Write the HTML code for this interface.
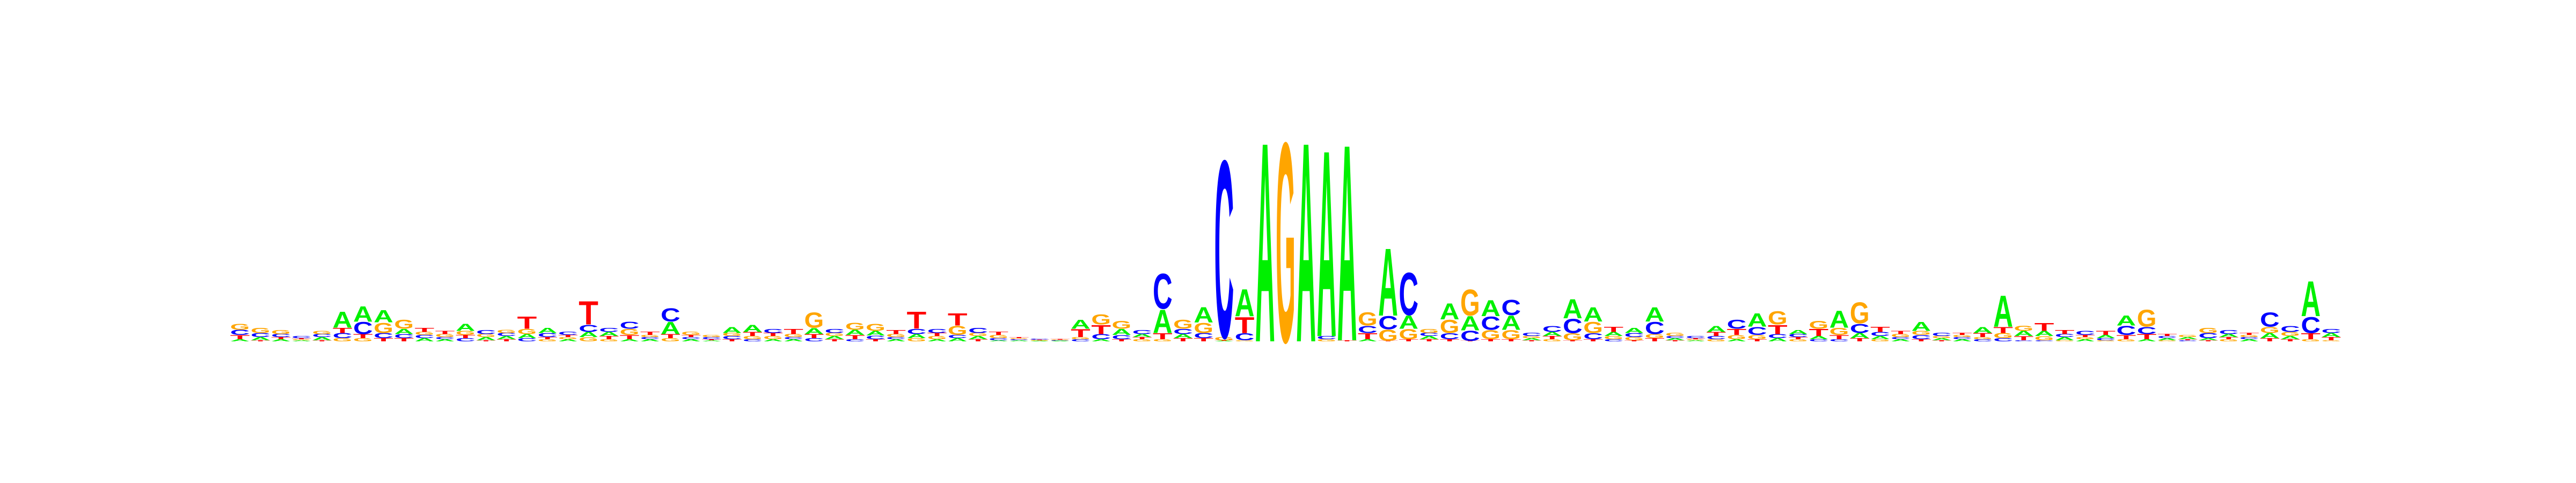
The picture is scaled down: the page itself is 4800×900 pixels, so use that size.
<!DOCTYPE html>
<html>
<head>
<meta charset="utf-8">
<style>
  html, body { margin: 0; padding: 0; background: #ffffff; }
  svg { display: block; }
  text { font-family: "Liberation Sans", "DejaVu Sans", sans-serif; font-weight: bold; }
</style>
</head>
<body>
<svg id="logo" width="4800" height="900" viewBox="0 0 4800 900" xmlns="http://www.w3.org/2000/svg">
  <rect x="0" y="0" width="4800" height="900" fill="#ffffff"></rect>
  <g id="stacks"></g>
</svg>
<script>
// Information content (bits) per position for each base
const heightA = [0.02,0.03,0.02,0.01,0.03,0.16,0.15,0.12,0.05,0.03,0.02,0.07,0.03,0.03,0.04,0.05,0.02,0.05,0.04,0.02,0.02,0.12,0.02,0.01,0.06,0.07,0.02,0.02,0.06,0.03,0.05,0.045,0.02,0.04,0.02,0.03,0.03,0.01,0.01,0.005,0.005,
  0.09,0.02,0.06,0.03,0.23,0.04,0.15,0.005,0.27,1.98,0,1.98,1.85,1.95,0.02,0.67,0.13,0.03,0.16,0.14,0.16,0.14,0.02,0.04,0.19,
  0.14,0.04,0.05,0.14,0.02,0.01,0.06,0.02,0.13,0.03,0.04,0.03,0.17,0.05,0.03,0.02,0.09,0.02,0.02,0.06,0.31,0.05,0.05,0.03,0.02,0.03,0.10,0.02,0.02,0.02,0.02,0.03,0.02,0.05,0.03,0.35,0.04];
const heightC = [0.05,0.04,0.03,0.02,0.03,0.05,0.12,0.05,0.04,0.03,0.02,0.03,0.04,0.03,0.03,0.04,0.03,0.07,0.04,0.07,0.02,0.13,0.02,0.02,0.03,0.02,0.04,0.02,0.03,0.04,0.02,0.035,0.02,0.05,0.04,0.03,0.05,0.02,0.01,0.01,0.005,
  0.02,0.05,0.04,0.04,0.35,0.05,0.05,1.76,0.07,0,0,0,0.03,0,0.07,0.13,0.42,0.03,0.06,0.10,0.13,0.15,0.03,0.06,0.14,
  0.06,0.02,0.04,0.12,0.02,0.02,0.03,0.09,0.08,0.04,0.03,0.02,0.02,0.09,0.04,0.02,0.04,0.03,0.02,0.02,0.03,0.01,0.01,0.03,0.04,0.02,0.09,0.07,0.02,0.01,0.05,0.04,0.02,0.14,0.06,0.16,0.04];
const heightG = [0.06,0.05,0.04,0.01,0.03,0.03,0.03,0.10,0.09,0.03,0.03,0.04,0.03,0.03,0.05,0.02,0.02,0.04,0.02,0.06,0.02,0.03,0.03,0.02,0.03,0.03,0.03,0.03,0.15,0.03,0.07,0.07,0.03,0.03,0.03,0.09,0.03,0.03,0.01,0.005,0.005,
  0.02,0.10,0.08,0.02,0.02,0.09,0.10,0.03,0.01,0,1.98,0,0.02,0,0.13,0.11,0.10,0.04,0.13,0.26,0.09,0.09,0.02,0.02,0.07,
  0.11,0.03,0.03,0.04,0.03,0.01,0.02,0.04,0.04,0.13,0.02,0.08,0.07,0.21,0.02,0.03,0.04,0.02,0.02,0.02,0.05,0.05,0.04,0.01,0.02,0.01,0.02,0.17,0.01,0.02,0.05,0.02,0.02,0.06,0.04,0.02,0.01];
const heightT = [0.04,0.01,0.02,0.01,0.01,0.05,0.04,0.03,0.03,0.04,0.03,0.03,0.01,0.02,0.12,0.02,0.02,0.23,0.03,0.04,0.03,0.04,0.02,0.01,0.02,0.04,0.03,0.05,0.04,0.02,0.04,0.02,0.04,0.17,0.03,0.12,0.02,0.03,0.01,0.005,0.005,
  0.08,0.09,0.02,0.02,0.06,0.03,0.03,0.005,0.16,0,0,0,0,0.01,0.06,0.005,0.02,0.02,0.02,0.005,0.02,0.02,0.01,0.03,0.01,
  0.02,0.05,0.01,0.03,0.01,0.01,0.04,0.06,0.02,0.09,0.02,0.07,0.04,0.03,0.05,0.03,0.02,0.01,0.02,0.04,0.06,0.04,0.08,0.04,0.02,0.04,0.04,0.05,0.02,0.01,0.01,0.02,0.02,0.03,0.02,0.06,0.03];
const bases = ["A", "C", "G", "T"];

const X0 = 428, X1 = 4363, BASE_Y = 636, PX_PER_BIT = 196;
const N = heightA.length;
const colW = (X1 - X0) / N;
const colors = { A: "#00f000", C: "#0000ff", G: "#ffa500", T: "#ff0000" };
const xPos = i => X0 + i * colW;
const yPx = bits => bits * PX_PER_BIT;

const NS = "http://www.w3.org/2000/svg";
const g = document.getElementById("stacks");
const series = { A: heightA, C: heightC, G: heightG, T: heightT };

for (let i = 0; i < N; i++) {
  const col = document.createElementNS(NS, "g");
  
  
  const stack = bases.map(b => ({ b, h: series[b][i] })).filter(s => s.h > 0).sort((a, c) => a.h - c.h);
  let y = BASE_Y;
  const lw = colW * 0.96;
  const lx = xPos(i) + (colW - lw) / 2;
  for (const s of stack) {
    const h = yPx(s.h);
    const t = document.createElementNS(NS, "text");
    
    
    t.setAttribute("x", "0");
    t.setAttribute("y", "0");
    t.setAttribute("font-size", "100");
    t.setAttribute("textLength", "70");
    t.setAttribute("lengthAdjust", "spacingAndGlyphs");
    t.setAttribute("fill", colors[s.b]);
    t.setAttribute("transform", "translate(" + lx + "," + y + ") scale(" + (lw / 70) + "," + (h / 72.9) + ")");
    t.textContent = s.b;
    col.appendChild(t);
    y -= h;
  }
  g.appendChild(col);
}
</script>
</body>
</html>
